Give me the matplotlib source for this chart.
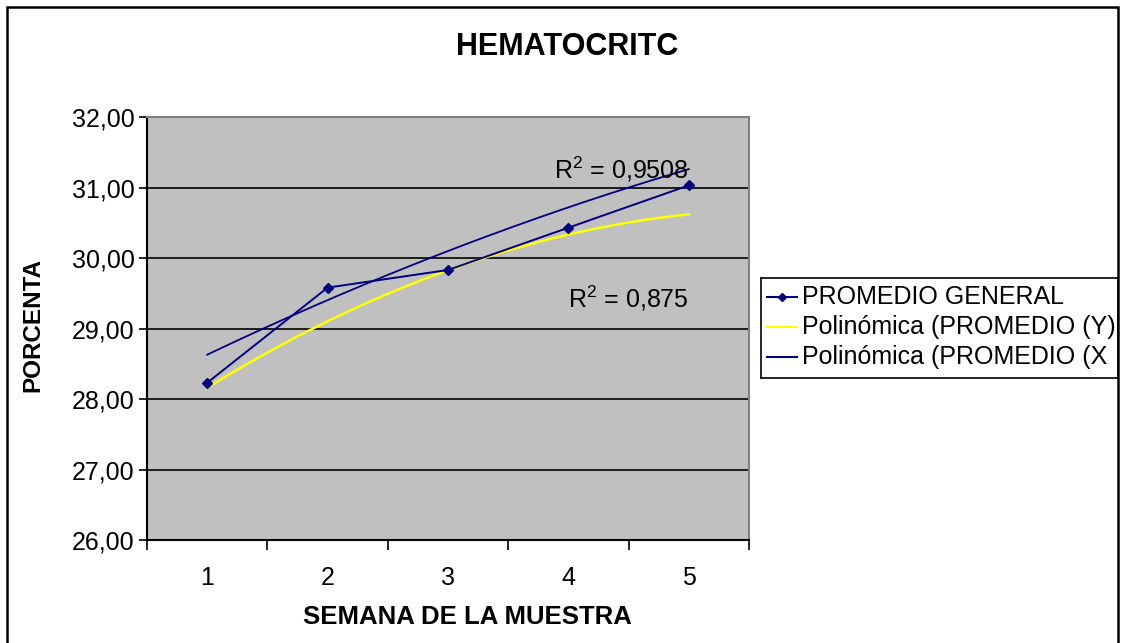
import numpy as np
import matplotlib
matplotlib.use("Agg")
import matplotlib.pyplot as plt
from matplotlib.patches import Rectangle

plt.rcParams['font.family'] = ['Liberation Sans', 'DejaVu Sans']
plt.rcParams['mathtext.fontset'] = 'custom'
plt.rcParams['mathtext.rm'] = 'Liberation Sans'
plt.rcParams['mathtext.it'] = 'Liberation Sans'

# ---- data ----
weeks = [1, 2, 3, 4, 5]
week_labels = ["1", "2", "3", "4", "5"]
promedio_general = [28.23, 29.58, 29.83, 30.43, 31.03]
trend_y_read = [28.16, 29.10, 29.83, 30.33, 30.62]   # yellow polynomial trend, read at each week
trend_x_read = [28.63, 29.40, 30.10, 30.72, 31.26]   # navy polynomial trend, read at each week
y_ticks = [26, 27, 28, 29, 30, 31, 32]
y_tick_labels = ["26,00", "27,00", "28,00", "29,00", "30,00", "31,00", "32,00"]
legend_labels = ["PROMEDIO GENERAL", "Polinómica (PROMEDIO (Y)", "Polinómica (PROMEDIO (X"]
r2_labels = [r"R$^2$ = 0,9508", r"R$^2$ = 0,875"]
title = "HEMATOCRITC"
xlabel = "SEMANA DE LA MUESTRA"
ylabel = "PORCENTA"

NAVY = "#000080"
YELLOW = "#FFFF00"
GRAY = "#C0C0C0"

W, H = 1124, 643
fig = plt.figure(figsize=(W / 100, H / 100), dpi=100)
fig.patch.set_facecolor("white")

def fx(px):
    return px / W

def fy(py):
    return 1 - py / H

ax = fig.add_axes([fx(147), fy(540), fx(749) - fx(147), fy(117) - fy(540)])
ax.set_facecolor(GRAY)
ax.set_xlim(0.5, 5.5)
ax.set_ylim(26, 32)

# gridlines
for yv in y_ticks[1:-1]:
    ax.axhline(yv, color="black", lw=1.2, zorder=1)

# trend lines (quadratic fits through read values)
xs = np.linspace(1, 5, 200)
py = np.polyfit(weeks, trend_y_read, 2)
px_ = np.polyfit(weeks, trend_x_read, 2)
ax.plot(xs, np.polyval(py, xs), color=YELLOW, lw=1.8, zorder=3)
ax.plot(xs, np.polyval(px_, xs), color=NAVY, lw=1.3, zorder=3)

# data series
ax.plot(weeks, promedio_general, color=NAVY, lw=1.4, marker="D", ms=5,
        markerfacecolor=NAVY, markeredgecolor=NAVY, zorder=4)

# R^2 labels
ax.text(5.0, 31.05, r2_labels[0], fontsize=18, ha="right", va="bottom", color="black", zorder=5)
ax.text(5.0, 29.22, r2_labels[1], fontsize=18, ha="right", va="bottom", color="black", zorder=5)

# spines
for s in ["top", "right"]:
    ax.spines[s].set_color("#808080")
    ax.spines[s].set_linewidth(1.5)
for s in ["left", "bottom"]:
    ax.spines[s].set_color("black")
    ax.spines[s].set_linewidth(1.5)

# ticks
ax.set_yticks(y_ticks)
ax.set_yticklabels(y_tick_labels, fontsize=18)
ax.tick_params(axis="y", direction="out", length=6, width=1.2, pad=3)
ax.set_xticks([0.5, 1.5, 2.5, 3.5, 4.5, 5.5])
ax.set_xticklabels([])
ax.tick_params(axis="x", which="major", direction="out", length=7, width=1.2)
ax.set_xticks(weeks, minor=True)
ax.set_xticklabels(week_labels, minor=True, fontsize=18)
ax.tick_params(axis="x", which="minor", length=0, pad=19)

# title and axis labels
fig.text(fx(567), fy(47), title, fontsize=22, fontweight="bold", ha="center", va="center")
fig.text(fx(467), fy(617), xlabel, fontsize=18.5, fontweight="bold", ha="center", va="center")
fig.text(fx(33), fy(325), ylabel, fontsize=17.5, fontweight="bold", ha="center", va="center", rotation=90)

# legend (manual, clipped like the original)
lx0, lx1, ly0, ly1 = 761, 1118, 278, 378
lax = fig.add_axes([fx(lx0), fy(ly1), fx(lx1) - fx(lx0), fy(ly0) - fy(ly1)])
lax.set_xlim(lx0, lx1)
lax.set_ylim(ly1, ly0)
lax.set_xticks([])
lax.set_yticks([])
lax.set_facecolor("white")
for s in lax.spines.values():
    s.set_color("black")
    s.set_linewidth(1.2)
entry_colors = [NAVY, YELLOW, NAVY]
entry_markers = ["D", None, None]
entry_y = [297, 327, 357]
for lab, c, m, yy in zip(legend_labels, entry_colors, entry_markers, entry_y):
    lax.plot([767, 797], [yy, yy], color=c, lw=1.5)
    if m:
        lax.plot([782], [yy], color=c, marker=m, ms=4)
    lax.text(802, yy, lab, fontsize=18, ha="left", va="center", clip_on=True)

# outer chart border
fig.add_artist(Rectangle((fx(7), -0.02), fx(1118) - fx(7), fy(7) + 0.02,
                         transform=fig.transFigure, fill=False, edgecolor="black", lw=1.8))

fig.savefig("out.png", dpi=100, facecolor="white")
